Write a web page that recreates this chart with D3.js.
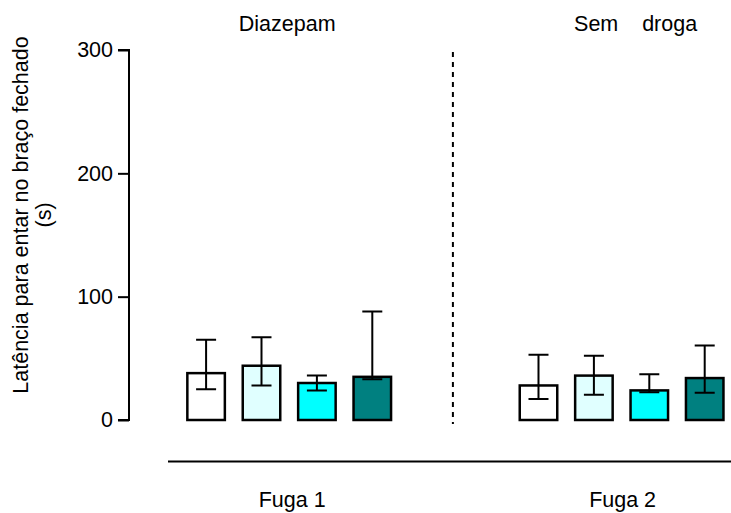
<!DOCTYPE html>
<html>
<head>
<meta charset="utf-8">
<script src="https://cdn.jsdelivr.net/npm/d3@7"></script>
<style>
  html, body { margin: 0; padding: 0; background: #fff; }
  svg { display: block; font-family: Arial, "Liberation Sans", sans-serif; }
</style>
</head>
<body>
<svg id="chart" width="731" height="513"></svg>
<script>
// Experimental sessions (x groups) and their headers
const sessions = ["Fuga 1", "Fuga 2"];
const headers = ["Diazepam", "Sem    droga"];

// Four treatment groups per session, drawn with these fills
const groups = ["g1", "g2", "g3", "g4"];
const fills = ["#ffffff", "#e0ffff", "#00ffff", "#008080"];

// Latency values (s): bar height and lower / upper whisker
const fuga1Value = [38, 44, 30, 35];
const fuga1Low   = [25, 28, 24, 33];
const fuga1High  = [65, 67, 36, 88];

const fuga2Value = [28, 36, 24, 34];
const fuga2Low   = [17, 20.5, 22.5, 22];
const fuga2High  = [53, 52, 37, 60.5];

const yTicks = [0, 100, 200, 300];
const yLabel = ["Latência para entar no braço fechado", "(s)"];

const series = [
  { session: sessions[0], value: fuga1Value, low: fuga1Low, high: fuga1High },
  { session: sessions[1], value: fuga2Value, low: fuga2Low, high: fuga2High }
];

const FS = "21.5px";
const svg = d3.select("#chart");
const axisX = 129;

const y = d3.scaleLinear().domain([0, 300]).range([420, 50]);

const x0 = d3.scaleBand()
  .domain(sessions)
  .range([axisX, 781.8])
  .paddingInner(0.3333)
  .paddingOuter(0.1486);

const x1 = d3.scaleBand()
  .domain(groups)
  .range([0, x0.bandwidth()])
  .paddingInner(0.323)
  .paddingOuter(0.1615);

// Y axis
const yAxis = d3.axisLeft(y).tickValues(yTicks).tickSize(11).tickPadding(5);
const gy = svg.append("g").attr("transform", `translate(${axisX},0)`).call(yAxis);
gy.select(".domain").attr("stroke", "#000").attr("stroke-width", 2)
  .attr("d", `M-11,${y(300)}H0V${y(0)}H-11`);
gy.selectAll(".tick line").attr("stroke", "#000").attr("stroke-width", 2);
gy.selectAll(".tick text").attr("fill", "#000").style("font-size", FS)
  .style("font-family", "Arial, 'Liberation Sans', sans-serif");

// Y axis title (two lines)
const yt = svg.append("text")
  .attr("transform", `translate(28,${215}) rotate(-90)`)
  .attr("text-anchor", "middle")
  .style("font-size", FS)
  .attr("fill", "#000");
yt.append("tspan").attr("x", 0).attr("dy", 0).text(yLabel[0]);
yt.append("tspan").attr("x", 0).attr("dy", 23).text(yLabel[1]);

// Bars and whiskers
series.forEach(s => {
  const g = svg.append("g").attr("transform", `translate(${x0(s.session)},0)`);
  groups.forEach((k, i) => {
    const bx = x1(k), bw = x1.bandwidth();
    const cx = bx + bw / 2;
    g.append("rect")
      .attr("x", bx).attr("y", y(s.value[i]))
      .attr("width", bw).attr("height", y(0) - y(s.value[i]))
      .attr("fill", fills[i]).attr("stroke", "#000").attr("stroke-width", 2.5);
    const capW = 10;
    g.append("path")
      .attr("d", `M${cx},${y(s.low[i])}V${y(s.high[i])}` +
                 `M${cx - capW},${y(s.high[i])}H${cx + capW}` +
                 `M${cx - capW},${y(s.low[i])}H${cx + capW}`)
      .attr("stroke", "#000").attr("stroke-width", 2).attr("fill", "none");
  });
});

// Headers above each session
sessions.forEach((s, i) => {
  svg.append("text")
    .attr("x", x0(s) + x0.bandwidth() / 2 + (i === 0 ? -2 : 14))
    .attr("y", 31)
    .attr("text-anchor", "middle")
    .attr("xml:space", "preserve")
    .style("white-space", "pre")
    .style("font-size", FS)
    .attr("fill", "#000")
    .text(headers[i]);
});

// Dashed separator between sessions
const sepX = (x0(sessions[0]) + x0.bandwidth() + x0(sessions[1])) / 2 - 2.5;
svg.append("line")
  .attr("x1", sepX).attr("x2", sepX)
  .attr("y1", 52).attr("y2", 424)
  .attr("stroke", "#000").attr("stroke-width", 2)
  .attr("stroke-dasharray", "5,5");

// Baseline under the categories
svg.append("line")
  .attr("x1", 168).attr("x2", 731)
  .attr("y1", 461.5).attr("y2", 461.5)
  .attr("stroke", "#000").attr("stroke-width", 2);

// Session labels
sessions.forEach((s, i) => {
  svg.append("text")
    .attr("x", x0(s) + x0.bandwidth() / 2 + (i === 0 ? 3 : 1))
    .attr("y", 507)
    .attr("text-anchor", "middle")
    .style("font-size", FS)
    .attr("fill", "#000")
    .text(s);
});
</script>
</body>
</html>
